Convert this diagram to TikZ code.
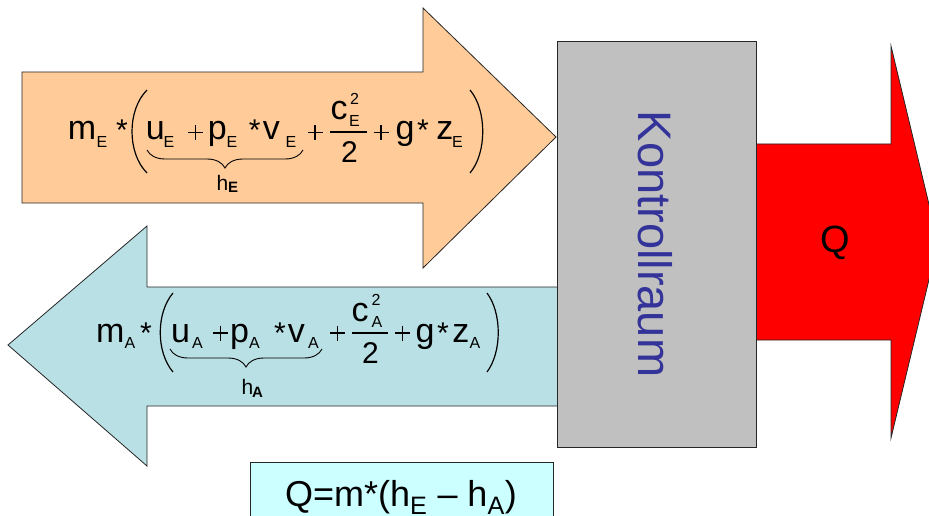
\documentclass[tikz,border=0pt]{standalone}
\usepackage{fontspec}
\setmainfont{Liberation Sans}
\usetikzlibrary{decorations.pathreplacing}
\definecolor{orangefill}{HTML}{FFCC99}
\definecolor{bluefill}{HTML}{B9E0E4}
\definecolor{grayfill}{HTML}{C0C0C0}
\definecolor{redfill}{HTML}{FF0000}
\definecolor{qfill}{HTML}{CCFFFF}
\definecolor{kblue}{HTML}{333399}
\begin{document}
\begin{tikzpicture}[x=1pt,y=-1pt,
  outl/.style={draw=black!85, line width=0.8pt, line join=miter},
  tok/.style={anchor=base west, inner sep=0pt, outer sep=0pt},
  mv/.style={tok, font=\fontsize{34}{34}\selectfont},
  fr/.style={tok, font=\fontsize{30}{30}\selectfont},
  sb/.style={tok, font=\fontsize{16}{16}\selectfont},
  sp/.style={tok, font=\fontsize{16}{16}\selectfont},
  st/.style={tok, font=\fontsize{30}{30}\selectfont},
  hl/.style={tok, font=\fontsize{21}{21}\selectfont},
  hb/.style={tok, font=\fontsize{15}{15}\selectfont\bfseries},
  par/.style={draw=black, line width=1.2pt},
  thinline/.style={draw=black, line width=1.2pt},
  ubrace/.style={draw=black, line width=0.9pt, decorate, decoration={brace, mirror, amplitude=18pt}}]
\useasboundingbox (0,0) rectangle (929,516);
\clip (0,0) rectangle (929,516);
\fill[white] (0,0) rectangle (929,516);
% incoming (E) arrow
\draw[outl, fill=orangefill] (22,72) -- (423,72) -- (423,8) -- (556,137) -- (423,268) -- (423,203) -- (22,203) -- cycle;
% outgoing (A) arrow
\draw[outl, fill=bluefill] (558,287) -- (147,287) -- (147,226) -- (8,345) -- (147,466) -- (147,406) -- (558,406) -- cycle;
% heat arrow
\draw[outl, fill=redfill] (756,144) -- (891,144) -- (891,46) -- (938,242) -- (891,438) -- (891,340) -- (756,340) -- cycle;
% control volume
\draw[outl, fill=grayfill] (557,41) rectangle (756,447);
\node[rotate=-90, text=kblue, font=\fontsize{47}{50}\selectfont] (kr) at (655,244) {Kontrollraum};
\node[font=\fontsize{38}{40}\selectfont] (q) at (835,243) {Q};

% ---------- formula E ----------
\node[mv] (mE) at (67.8,140) {m};
\node[sb] (mEs) at (96.5,148) {E};
\node[st] (st1E) at (116,141) {*};
\draw[par] (147,90) .. controls (127,110) and (127,153) .. (147,173);
\node[mv] (uE) at (145.8,140) {u};
\node[sb] (uEs) at (163.7,148) {E};
\draw[thinline] (188,132.5) -- (203,132.5) (195.5,125) -- (195.5,140);
\node[mv] (pE) at (207.8,140) {p};
\node[sb] (pEs) at (226.7,148) {E};
\node[st] (st2E) at (248.8,141) {*};
\node[mv] (vE) at (262.8,140) {v};
\node[sb] (vEs) at (285.7,148) {E};
\draw[ubrace] (147,150) -- (303,150);
\node[hl] (hE) at (216.5,190) {h};
\node[hb] (hEs) at (228,193) {E};
\draw[thinline] (307.5,132.5) -- (322.5,132.5) (315,125) -- (315,140);
\draw[thinline] (330,132) -- (367,132);
\node[mv] (cE) at (330.6,120) {c};
\node[sb] (cEs) at (349,127) {E};
\node[sp] (cEp) at (350,105) {2};
\node[fr] (dE) at (341,163) {2};
\draw[thinline] (373.5,132.5) -- (388.5,132.5) (381,125) -- (381,140);
\node[mv] (gE) at (395.6,140) {g};
\node[st] (st3E) at (417,141) {*};
\node[mv] (zE) at (436.3,140) {z};
\node[sb] (zEs) at (452,148) {E};
\draw[par] (470,90) .. controls (487,110) and (487,153) .. (470,173);

% ---------- formula A ----------
\node[mv] (mA) at (96,342) {m};
\node[sb] (mAs) at (124.5,348) {A};
\node[st] (st1A) at (140,343) {*};
\draw[par] (173,293) .. controls (156,313) and (156,352) .. (173,372);
\node[mv] (uA) at (171,342) {u};
\node[sb] (uAs) at (192,348) {A};
\draw[thinline] (213,333) -- (228,333) (220.5,325.5) -- (220.5,340.5);
\node[mv] (pA) at (230,342) {p};
\node[sb] (pAs) at (249,348) {A};
\node[st] (st2A) at (274,343) {*};
\node[mv] (vA) at (287.8,342) {v};
\node[sb] (vAs) at (308,348) {A};
\draw[ubrace] (170,349) -- (322,349);
\node[hl] (hA) at (241.5,394) {h};
\node[hb] (hAs) at (252,397) {A};
\draw[thinline] (330,333) -- (345,333) (337.5,325.5) -- (337.5,340.5);
\draw[thinline] (352,333) -- (388,333);
\node[mv] (cA) at (351.6,321) {c};
\node[sb] (cAs) at (371.5,327) {A};
\node[sp] (cAp) at (371.5,305) {2};
\node[fr] (dA) at (362,363) {2};
\draw[thinline] (395,333) -- (410,333) (402.5,325.5) -- (402.5,340.5);
\node[mv] (gA) at (415.6,342) {g};
\node[st] (st3A) at (437,343) {*};
\node[mv] (zA) at (452.3,342) {z};
\node[sb] (zAs) at (469.5,348) {A};
\draw[par] (487,293) .. controls (502,313) and (502,352) .. (487,372);

% result box
\draw[outl, fill=qfill] (250,462) rectangle (553,530);
\node[anchor=base, inner sep=0pt, font=\fontsize{36}{38}\selectfont] (qbox) at (401,506) {Q=m*(h\textsubscript{E} – h\textsubscript{A})};
\end{tikzpicture}
\end{document}
